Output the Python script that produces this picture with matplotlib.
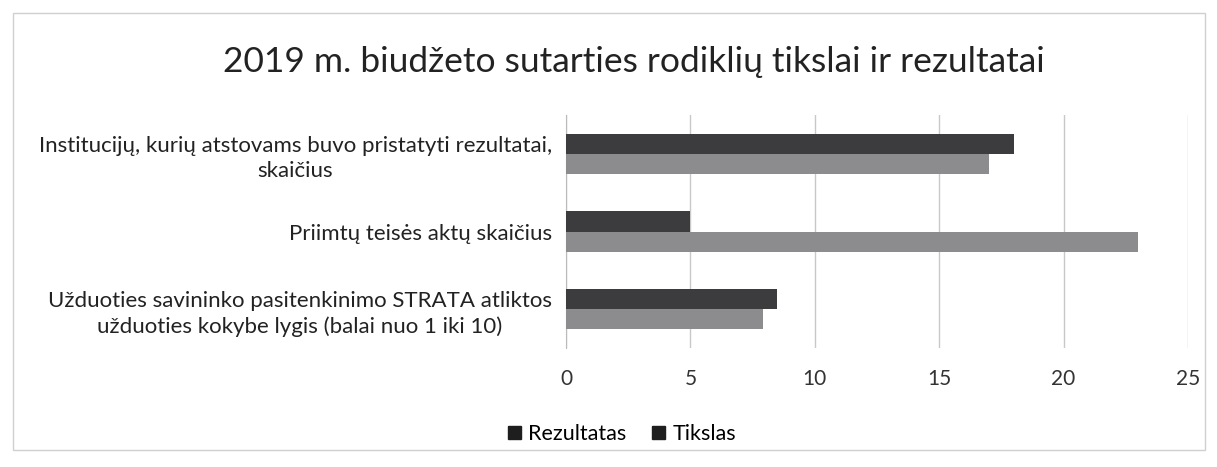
import matplotlib
matplotlib.use("Agg")
import matplotlib.pyplot as plt
import matplotlib.patches as mpatches
import numpy as np

categories = [
    "Užduoties savininko pasitenkinimo STRATA atliktos\nužduoties kokybe lygis (balai nuo 1 iki 10)",
    "Priimtų teisės aktų skaičius",
    "Institucijų, kurių atstovams buvo pristatyti rezultatai,\nskaičius",
]
rezultatas = [7.9, 23, 17]
tikslas = [8.5, 5, 18]
series_names = ["Rezultatas", "Tikslas"]
xticks = [0, 5, 10, 15, 20, 25]

plt.rcParams['font.family'] = ['Lato', 'DejaVu Sans']

fig = plt.figure(figsize=(12.17, 4.67), dpi=100)
ax = fig.add_axes([566/1217, (467-348)/467, (1188-566)/1217, (348-115)/467])

y = np.arange(len(categories))
h = 0.258
ax.barh(y - h/2, rezultatas, height=h, color="#8c8c8f", label=series_names[0], zorder=3)
ax.barh(y + h/2, tikslas, height=h, color="#3c3c3e", label=series_names[1], zorder=3)

ax.set_xlim(0, 25)
ax.set_ylim(-0.5, len(categories) - 0.5)
ax.set_xticks(xticks)
ax.set_xticklabels([str(t) for t in xticks], fontsize=15, color="#333333")
ax.set_yticks(y)
ax.set_yticklabels(categories, fontsize=16, color="#222222", multialignment="center",
                   linespacing=1.35)
ax.tick_params(axis="x", length=0, pad=15)
ax.tick_params(axis="y", length=0, pad=10)
ax.grid(axis="x", color="#c8c8c8", linewidth=1, zorder=0)
for s in ["top", "right", "bottom"]:
    ax.spines[s].set_visible(False)
ax.spines["left"].set_color("#bbbbbb")

fig.text(634/1217, 1 - 62/467, "2019 m. biudžeto sutarties rodiklių tikslai ir rezultatai",
         ha="center", va="center", fontsize=25.5, color="#222222")

handles = [mpatches.Patch(color="#1e1e1e", label=series_names[0]),
           mpatches.Patch(color="#1e1e1e", label=series_names[1])]
fig.legend(handles=handles, loc="center", bbox_to_anchor=(622/1217, 1 - 434/467),
           ncol=2, frameon=False, fontsize=15.5, handlelength=0.6, handleheight=0.6,
           handletextpad=0.35, columnspacing=1.2)

fig.patches.append(mpatches.Rectangle((13/1217, 1 - 450/467), (1205-13)/1217, (450-13)/467,
                                      transform=fig.transFigure, fill=False,
                                      edgecolor="#d0d0d0", linewidth=1))

fig.savefig("out.png", dpi=100, facecolor="white")
